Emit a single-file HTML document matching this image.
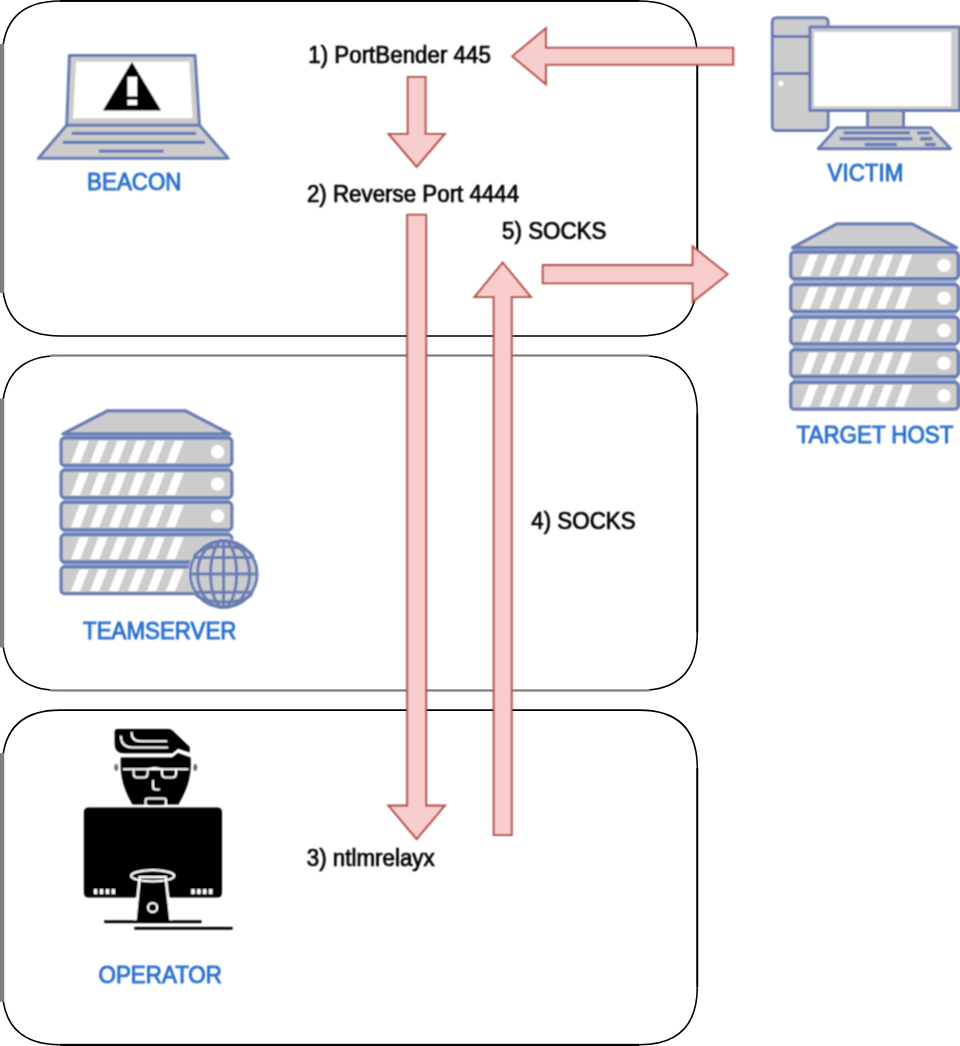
<!DOCTYPE html>
<html><head><meta charset="utf-8"><style>
html,body{margin:0;padding:0;background:#fff;width:960px;height:1046px;overflow:hidden}
svg{display:block}
</style></head><body>
<svg width="960" height="1046" viewBox="0 0 960 1046">
<path d="M60.2,0.9 H639.3 Q697.3,0.9 697.3,58.9 V277.9 Q697.3,335.9 639.3,335.9 H60.2 Q2.2,335.9 2.2,277.9 V58.9 Q2.2,0.9 60.2,0.9 Z" fill="none" stroke="#000" stroke-width="1.55"/>
<rect x="0" y="43.9" width="4.2" height="249" fill="#808080"/>
<path d="M60.2,355.5 H639.3 Q697.3,355.5 697.3,413.5 V632.4 Q697.3,690.4 639.3,690.4 H60.2 Q2.2,690.4 2.2,632.4 V413.5 Q2.2,355.5 60.2,355.5 Z" fill="none" stroke="#000" stroke-width="1.55"/>
<rect x="0" y="398.5" width="4.2" height="248.9" fill="#808080"/>
<path d="M60.2,710.1 H639.3 Q697.3,710.1 697.3,768.1 V986.8 Q697.3,1044.8 639.3,1044.8 H60.2 Q2.2,1044.8 2.2,986.8 V768.1 Q2.2,710.1 60.2,710.1 Z" fill="none" stroke="#000" stroke-width="1.55"/>
<rect x="0" y="753.1" width="4.2" height="248.7" fill="#808080"/>
<rect x="50.2" y="354.3" width="599" height="2.4" fill="#fff"/>
<rect x="50.2" y="354.5" width="599" height="2.1" fill="#7d7d7d"/>
<rect x="50.2" y="689.2" width="599" height="2.4" fill="#fff"/>
<rect x="50.2" y="689.4" width="599" height="2.1" fill="#7d7d7d"/>
<rect x="60.2" y="0" width="579" height="1.8" fill="#000"/>
<rect x="696.45" y="58.9" width="1.75" height="219" fill="#000"/>
<rect x="696.45" y="413.5" width="1.75" height="218.9" fill="#000"/>
<rect x="696.45" y="768.1" width="1.75" height="218.7" fill="#000"/>
<rect x="60.2" y="1043.8" width="579" height="2.2" fill="#000"/>
<defs><filter id="soft" x="0" y="0" width="960" height="1046" filterUnits="userSpaceOnUse"><feConvolveMatrix order="3" kernelMatrix="1 2 1 2 4 2 1 2 1" divisor="16" edgeMode="duplicate"/></filter></defs><g filter="url(#soft)">
<g stroke="#6A7DB5" stroke-width="3.0" stroke-linejoin="round">
<path d="M69.4,55.6 H195 L199.5,125.3 H66.7 Z" fill="#CCCCCC"/>
<path d="M76.1,61.8 H189.3 L192.6,118.2 H73 Z" fill="#FFFFFF" stroke="none"/>
<path d="M66.7,125.3 H199.5 L228.2,158.2 H38.4 Z" fill="#CCCCCC"/>
<path d="M71.7,133.4 H196.2 M62.8,142.4 H205 M98.9,151.1 H163.4" fill="none" stroke-width="3.2"/>
</g>
<path d="M131.9,63 L160.2,110 H103.8 Z" fill="#000" stroke="#000" stroke-width="1.2" stroke-linejoin="round"/>
<rect x="127.4" y="76.7" width="9.8" height="19.7" fill="#fff"/>
<rect x="127.4" y="99.7" width="9.8" height="5.5" fill="#fff"/>

<g stroke="#6A7DB5" stroke-width="3.0" stroke-linejoin="round">
<rect x="772.3" y="17.7" width="55.8" height="112.9" rx="4" fill="#CCCCCC"/>
<path d="M772.3,36.6 H809.9 M772.3,73.5 H809.9" fill="none"/>
<circle cx="780.8" cy="83.5" r="2.7" fill="#fff" stroke="none"/>
<rect x="809.9" y="27.1" width="149.6" height="83.5" fill="#CCCCCC"/>
<rect x="814" y="32" width="137.2" height="74.2" fill="#fff" stroke="none"/>
<rect x="867.6" y="110.6" width="35.9" height="17" fill="#CCCCCC"/>
<path d="M837,127.8 H930.8 L950.6,148.7 H818.3 Z" fill="#CCCCCC"/>
<path d="M843.6,132.8 H910 M917,132.8 H929.5 M839.7,138.75 H912.3 M920.2,138.75 H932.7 M864.7,144.5 H896.7 M924.8,144.5 H935.8" fill="none" stroke-width="3.3"/>
</g>
<rect x="792.5" y="247.6" width="164" height="4.4" fill="#9fb4dc"/>
<rect x="792.8" y="278.7" width="163.4" height="5.9" fill="#9fb4dc"/>
<rect x="792.8" y="311.3" width="163.4" height="5.9" fill="#9fb4dc"/>
<rect x="792.8" y="343.9" width="163.4" height="5.9" fill="#9fb4dc"/>
<rect x="792.8" y="376.5" width="163.4" height="5.9" fill="#9fb4dc"/>
<path d="M792.5,247.6 L836.8,223.9 H912.2 L956.5,247.6 Z" fill="#CCCCCC" stroke="#6A7DB5" stroke-width="3.3" stroke-linejoin="round"/>
<rect x="790.8" y="252" width="167.4" height="26.7" rx="3.5" fill="#CCCCCC" stroke="#6A7DB5" stroke-width="3.3"/>
<path d="M801,276.05 L809.2,254.65 H818.2 L810,276.05 Z" fill="#FFFFFF"/>
<path d="M819.8,276.05 L828,254.65 H837 L828.8,276.05 Z" fill="#FFFFFF"/>
<path d="M838.6,276.05 L846.8,254.65 H855.8 L847.6,276.05 Z" fill="#FFFFFF"/>
<path d="M857.4,276.05 L865.6,254.65 H874.6 L866.4,276.05 Z" fill="#FFFFFF"/>
<path d="M876.2,276.05 L884.4,254.65 H893.4 L885.2,276.05 Z" fill="#FFFFFF"/>
<path d="M895,276.05 L903.2,254.65 H912.2 L904,276.05 Z" fill="#FFFFFF"/>
<circle cx="944" cy="265.35" r="6.7" fill="#FFFFFF"/>
<rect x="790.8" y="284.6" width="167.4" height="26.7" rx="3.5" fill="#CCCCCC" stroke="#6A7DB5" stroke-width="3.3"/>
<path d="M801,308.65 L809.2,287.25 H818.2 L810,308.65 Z" fill="#FFFFFF"/>
<path d="M819.8,308.65 L828,287.25 H837 L828.8,308.65 Z" fill="#FFFFFF"/>
<path d="M838.6,308.65 L846.8,287.25 H855.8 L847.6,308.65 Z" fill="#FFFFFF"/>
<path d="M857.4,308.65 L865.6,287.25 H874.6 L866.4,308.65 Z" fill="#FFFFFF"/>
<path d="M876.2,308.65 L884.4,287.25 H893.4 L885.2,308.65 Z" fill="#FFFFFF"/>
<path d="M895,308.65 L903.2,287.25 H912.2 L904,308.65 Z" fill="#FFFFFF"/>
<circle cx="944" cy="297.95" r="6.7" fill="#FFFFFF"/>
<rect x="790.8" y="317.2" width="167.4" height="26.7" rx="3.5" fill="#CCCCCC" stroke="#6A7DB5" stroke-width="3.3"/>
<path d="M801,341.25 L809.2,319.85 H818.2 L810,341.25 Z" fill="#FFFFFF"/>
<path d="M819.8,341.25 L828,319.85 H837 L828.8,341.25 Z" fill="#FFFFFF"/>
<path d="M838.6,341.25 L846.8,319.85 H855.8 L847.6,341.25 Z" fill="#FFFFFF"/>
<path d="M857.4,341.25 L865.6,319.85 H874.6 L866.4,341.25 Z" fill="#FFFFFF"/>
<path d="M876.2,341.25 L884.4,319.85 H893.4 L885.2,341.25 Z" fill="#FFFFFF"/>
<path d="M895,341.25 L903.2,319.85 H912.2 L904,341.25 Z" fill="#FFFFFF"/>
<circle cx="944" cy="330.55" r="6.7" fill="#FFFFFF"/>
<rect x="790.8" y="349.8" width="167.4" height="26.7" rx="3.5" fill="#CCCCCC" stroke="#6A7DB5" stroke-width="3.3"/>
<path d="M801,373.85 L809.2,352.45 H818.2 L810,373.85 Z" fill="#FFFFFF"/>
<path d="M819.8,373.85 L828,352.45 H837 L828.8,373.85 Z" fill="#FFFFFF"/>
<path d="M838.6,373.85 L846.8,352.45 H855.8 L847.6,373.85 Z" fill="#FFFFFF"/>
<path d="M857.4,373.85 L865.6,352.45 H874.6 L866.4,373.85 Z" fill="#FFFFFF"/>
<path d="M876.2,373.85 L884.4,352.45 H893.4 L885.2,373.85 Z" fill="#FFFFFF"/>
<path d="M895,373.85 L903.2,352.45 H912.2 L904,373.85 Z" fill="#FFFFFF"/>
<circle cx="944" cy="363.15" r="6.7" fill="#FFFFFF"/>
<rect x="790.8" y="382.4" width="167.4" height="26.8" rx="3.5" fill="#CCCCCC" stroke="#6A7DB5" stroke-width="3.3"/>
<path d="M801,406.55 L809.2,385.05 H818.2 L810,406.55 Z" fill="#FFFFFF"/>
<path d="M819.8,406.55 L828,385.05 H837 L828.8,406.55 Z" fill="#FFFFFF"/>
<path d="M838.6,406.55 L846.8,385.05 H855.8 L847.6,406.55 Z" fill="#FFFFFF"/>
<path d="M857.4,406.55 L865.6,385.05 H874.6 L866.4,406.55 Z" fill="#FFFFFF"/>
<path d="M876.2,406.55 L884.4,385.05 H893.4 L885.2,406.55 Z" fill="#FFFFFF"/>
<path d="M895,406.55 L903.2,385.05 H912.2 L904,406.55 Z" fill="#FFFFFF"/>
<circle cx="944" cy="395.8" r="6.7" fill="#FFFFFF"/>
<rect x="63" y="433.9" width="166.9" height="4.1" fill="#9fb4dc"/>
<rect x="63.1" y="465.4" width="166.7" height="4.8" fill="#9fb4dc"/>
<rect x="63.1" y="497.6" width="166.7" height="4.8" fill="#9fb4dc"/>
<rect x="63.1" y="529.8" width="166.7" height="4.8" fill="#9fb4dc"/>
<rect x="63.1" y="562" width="166.7" height="4.8" fill="#9fb4dc"/>
<path d="M63,433.9 L107.7,410.8 H185.2 L229.9,433.9 Z" fill="#CCCCCC" stroke="#6A7DB5" stroke-width="3.3" stroke-linejoin="round"/>
<rect x="61.1" y="438" width="170.7" height="27.4" rx="3.5" fill="#CCCCCC" stroke="#6A7DB5" stroke-width="3.3"/>
<path d="M71,462.75 L79.6,440.65 H88.7 L80.1,462.75 Z" fill="#FFFFFF"/>
<path d="M90,462.75 L98.6,440.65 H107.7 L99.1,462.75 Z" fill="#FFFFFF"/>
<path d="M109,462.75 L117.6,440.65 H126.7 L118.1,462.75 Z" fill="#FFFFFF"/>
<path d="M128,462.75 L136.6,440.65 H145.7 L137.1,462.75 Z" fill="#FFFFFF"/>
<path d="M147,462.75 L155.6,440.65 H164.7 L156.1,462.75 Z" fill="#FFFFFF"/>
<path d="M166,462.75 L174.6,440.65 H183.7 L175.1,462.75 Z" fill="#FFFFFF"/>
<circle cx="217.6" cy="451.7" r="6.7" fill="#FFFFFF"/>
<rect x="61.1" y="470.2" width="170.7" height="27.4" rx="3.5" fill="#CCCCCC" stroke="#6A7DB5" stroke-width="3.3"/>
<path d="M71,494.95 L79.6,472.85 H88.7 L80.1,494.95 Z" fill="#FFFFFF"/>
<path d="M90,494.95 L98.6,472.85 H107.7 L99.1,494.95 Z" fill="#FFFFFF"/>
<path d="M109,494.95 L117.6,472.85 H126.7 L118.1,494.95 Z" fill="#FFFFFF"/>
<path d="M128,494.95 L136.6,472.85 H145.7 L137.1,494.95 Z" fill="#FFFFFF"/>
<path d="M147,494.95 L155.6,472.85 H164.7 L156.1,494.95 Z" fill="#FFFFFF"/>
<path d="M166,494.95 L174.6,472.85 H183.7 L175.1,494.95 Z" fill="#FFFFFF"/>
<circle cx="217.6" cy="483.9" r="6.7" fill="#FFFFFF"/>
<rect x="61.1" y="502.4" width="170.7" height="27.4" rx="3.5" fill="#CCCCCC" stroke="#6A7DB5" stroke-width="3.3"/>
<path d="M71,527.15 L79.6,505.05 H88.7 L80.1,527.15 Z" fill="#FFFFFF"/>
<path d="M90,527.15 L98.6,505.05 H107.7 L99.1,527.15 Z" fill="#FFFFFF"/>
<path d="M109,527.15 L117.6,505.05 H126.7 L118.1,527.15 Z" fill="#FFFFFF"/>
<path d="M128,527.15 L136.6,505.05 H145.7 L137.1,527.15 Z" fill="#FFFFFF"/>
<path d="M147,527.15 L155.6,505.05 H164.7 L156.1,527.15 Z" fill="#FFFFFF"/>
<path d="M166,527.15 L174.6,505.05 H183.7 L175.1,527.15 Z" fill="#FFFFFF"/>
<circle cx="217.6" cy="516.1" r="6.7" fill="#FFFFFF"/>
<rect x="61.1" y="534.6" width="170.7" height="27.4" rx="3.5" fill="#CCCCCC" stroke="#6A7DB5" stroke-width="3.3"/>
<path d="M71,559.35 L79.6,537.25 H88.7 L80.1,559.35 Z" fill="#FFFFFF"/>
<path d="M90,559.35 L98.6,537.25 H107.7 L99.1,559.35 Z" fill="#FFFFFF"/>
<path d="M109,559.35 L117.6,537.25 H126.7 L118.1,559.35 Z" fill="#FFFFFF"/>
<path d="M128,559.35 L136.6,537.25 H145.7 L137.1,559.35 Z" fill="#FFFFFF"/>
<path d="M147,559.35 L155.6,537.25 H164.7 L156.1,559.35 Z" fill="#FFFFFF"/>
<path d="M166,559.35 L174.6,537.25 H183.7 L175.1,559.35 Z" fill="#FFFFFF"/>
<circle cx="217.6" cy="548.3" r="6.7" fill="#FFFFFF"/>
<rect x="61.1" y="566.8" width="170.7" height="26.8" rx="3.5" fill="#CCCCCC" stroke="#6A7DB5" stroke-width="3.3"/>
<path d="M71,590.95 L79.6,569.45 H88.7 L80.1,590.95 Z" fill="#FFFFFF"/>
<path d="M90,590.95 L98.6,569.45 H107.7 L99.1,590.95 Z" fill="#FFFFFF"/>
<path d="M109,590.95 L117.6,569.45 H126.7 L118.1,590.95 Z" fill="#FFFFFF"/>
<path d="M128,590.95 L136.6,569.45 H145.7 L137.1,590.95 Z" fill="#FFFFFF"/>
<path d="M147,590.95 L155.6,569.45 H164.7 L156.1,590.95 Z" fill="#FFFFFF"/>
<path d="M166,590.95 L174.6,569.45 H183.7 L175.1,590.95 Z" fill="#FFFFFF"/>
<circle cx="217.6" cy="580.2" r="6.7" fill="#FFFFFF"/>
<g stroke="#6A7DB5" fill="none" stroke-width="3.0">
<circle cx="223.6" cy="573.9" r="35.5" fill="#fff" stroke="none"/>
<circle cx="223.6" cy="573.9" r="33.5" fill="#CCCCCC"/>
<ellipse cx="223.6" cy="573.9" rx="13" ry="33.5"/>
<ellipse cx="223.6" cy="573.9" rx="26" ry="33.5"/>
<path d="M223.6,540.4 V607.4 M190.1,573.9 H257.1 M194.6,557.6 H252.6 M194.6,592.3 H252.6"/>
<path d="M194.29999999999998,557.6 A29.3,11.2 0 0 1 252.9,557.6 M195.29999999999998,592.3 A28.3,9.6 0 0 0 251.9,592.3"/>
</g>
<g fill="#000">
<path d="M114.7,731.5 Q114.7,729 117.5,729 H168.5 Q171,729 173,731 L189.7,747 V752.6 L178,748.6 L172.5,753.3 H124 Q114.7,753.3 114.7,744 Z"/>
<path d="M120.8,757.5 H172.3 L178,753 L190.6,757.6 C191.5,772 189.5,786 178.4,804.4 H132.5 C121.5,786 120.2,772 120.8,757.5 Z"/>
<ellipse cx="116.2" cy="767.5" rx="1.9" ry="3.4" fill="#6e6e6e"/>
<ellipse cx="195.3" cy="767.5" rx="1.9" ry="3.4" fill="#6e6e6e"/>
</g>
<g fill="none" stroke="#fff" stroke-width="2" stroke-linecap="round" stroke-linejoin="round">
<path d="M131.6,732.8 Q131.6,741.3 140.5,741.3 H166.5"/>
<path d="M120.9,736.5 Q121.2,747.5 133,747.5 H167.3"/>
<path d="M123.8,769.3 H187.6"/>
<path d="M133.6,769.5 V773.5 Q133.6,777.6 137.6,777.6 H143.6 Q147.6,777.6 147.6,773.5 V769.5 Q154.8,766.5 162,769.5 V773.5 Q162,777.6 166,777.6 H172 Q176,777.6 176,773.5 V769.5"/>
<path d="M153.1,780.8 V787 Q153.1,789.4 155.5,789.4 H159"/>
<path d="M145.6,804.4 V800.3 Q145.6,798.6 147.5,798.6 H164 Q165.9,798.6 165.9,800.3 V804.4"/>
</g>
<path d="M148.5,804.4 Q155.7,800.4 163,804.4 Z" fill="#000"/>
<rect x="83.9" y="807.4" width="138.1" height="90.1" rx="4.5" fill="#000"/>
<g fill="#fff">
<rect x="93.8" y="889" width="3.6" height="5.2" rx="0.8"/><rect x="99.7" y="889" width="3.6" height="5.2" rx="0.8"/><rect x="105.6" y="889" width="3.6" height="5.2" rx="0.8"/><rect x="111.5" y="889" width="3.6" height="5.2" rx="0.8"/>
<rect x="191.2" y="889" width="3.6" height="5.2" rx="0.8"/><rect x="197.1" y="889" width="3.6" height="5.2" rx="0.8"/><rect x="203" y="889" width="3.6" height="5.2" rx="0.8"/><rect x="208.9" y="889" width="3.6" height="5.2" rx="0.8"/>
</g>
<path d="M138.6,876 H166.8 L172,921 H133.8 Z" fill="#fff"/>
<path d="M141,877.6 H164.4 L169.4,921 H136.6 Z" fill="#000"/>
<ellipse cx="152.7" cy="875.8" rx="21.6" ry="5.6" fill="none" stroke="#fff" stroke-width="2.2"/>
<path d="M141.5,877.4 H164" stroke="#fff" stroke-width="1.6"/>
<circle cx="152.6" cy="907.5" r="4.6" fill="none" stroke="#fff" stroke-width="2"/>
<rect x="104.2" y="920.3" width="97.4" height="2.8" fill="#000"/>
<rect x="134.3" y="926.9" width="98.3" height="2.8" fill="#000"/>

<polygon points="733.2,47.7 545.9,47.7 545.9,28.2 512.3,56.2 545.9,84.2 545.9,64.7 733.2,64.7" fill="#F8CECC" stroke="#B85450" stroke-width="2.1" stroke-linejoin="miter"/>
<polygon points="407.75,77 407.75,134 388.65,134 416.65,166.8 444.65,134 425.55,134 425.55,77" fill="#F8CECC" stroke="#B85450" stroke-width="2.1" stroke-linejoin="miter"/>
<polygon points="407.2,214.8 407.2,805.6 388.45,805.6 416.65,839 444.85,805.6 426.1,805.6 426.1,214.8" fill="#F8CECC" stroke="#B85450" stroke-width="2.1" stroke-linejoin="miter"/>
<polygon points="493.7,835 493.7,297 474.5,297 502.7,262.6 530.9,297 511.7,297 511.7,835" fill="#F8CECC" stroke="#B85450" stroke-width="2.1" stroke-linejoin="miter"/>
<polygon points="542.8,265.1 692.6,265.1 692.6,246.4 727.6,274.2 692.6,302 692.6,283.3 542.8,283.3" fill="#F8CECC" stroke="#B85450" stroke-width="2.1" stroke-linejoin="miter"/>
<text transform="translate(308.3,63.35) scale(1,1.03)" x="0" y="0" font-family="Liberation Sans, sans-serif" font-size="22.35" fill="#000" stroke="#000" stroke-width="0.7">1) PortBender 445</text>
<text transform="translate(306.9,201.85) scale(1,1.03)" x="0" y="0" font-family="Liberation Sans, sans-serif" font-size="22.35" fill="#000" stroke="#000" stroke-width="0.7">2) Reverse Port 4444</text>
<text transform="translate(502.1,239.25) scale(1,1.03)" x="0" y="0" font-family="Liberation Sans, sans-serif" font-size="22.35" fill="#000" stroke="#000" stroke-width="0.7">5) SOCKS</text>
<text transform="translate(531.3,529.25) scale(1,1.03)" x="0" y="0" font-family="Liberation Sans, sans-serif" font-size="22.35" fill="#000" stroke="#000" stroke-width="0.7">4) SOCKS</text>
<text transform="translate(306.8,866.35) scale(1,1.03)" x="0" y="0" font-family="Liberation Sans, sans-serif" font-size="22.35" fill="#000" stroke="#000" stroke-width="0.7">3) ntlmrelayx</text>
<text transform="translate(87.1,190.35) scale(1,1.03)" x="0" y="0" font-family="Liberation Sans, sans-serif" font-size="22.35" fill="#2C72D2" stroke="#2C72D2" stroke-width="0.9">BEACON</text>
<text transform="translate(827.6,181.35) scale(1,1.03)" x="0" y="0" font-family="Liberation Sans, sans-serif" font-size="22.35" fill="#2C72D2" stroke="#2C72D2" stroke-width="0.9">VICTIM</text>
<text transform="translate(796.6,443.45) scale(1,1.03)" x="0" y="0" font-family="Liberation Sans, sans-serif" font-size="22.35" fill="#2C72D2" stroke="#2C72D2" stroke-width="0.9">TARGET HOST</text>
<text transform="translate(83.0,639.35) scale(1,1.03)" x="0" y="0" font-family="Liberation Sans, sans-serif" font-size="22.35" fill="#2C72D2" stroke="#2C72D2" stroke-width="0.9">TEAMSERVER</text>
<text transform="translate(98.6,982.55) scale(1,1.03)" x="0" y="0" font-family="Liberation Sans, sans-serif" font-size="22.35" fill="#2C72D2" stroke="#2C72D2" stroke-width="0.9">OPERATOR</text>
</g>
</svg>
</body></html>
